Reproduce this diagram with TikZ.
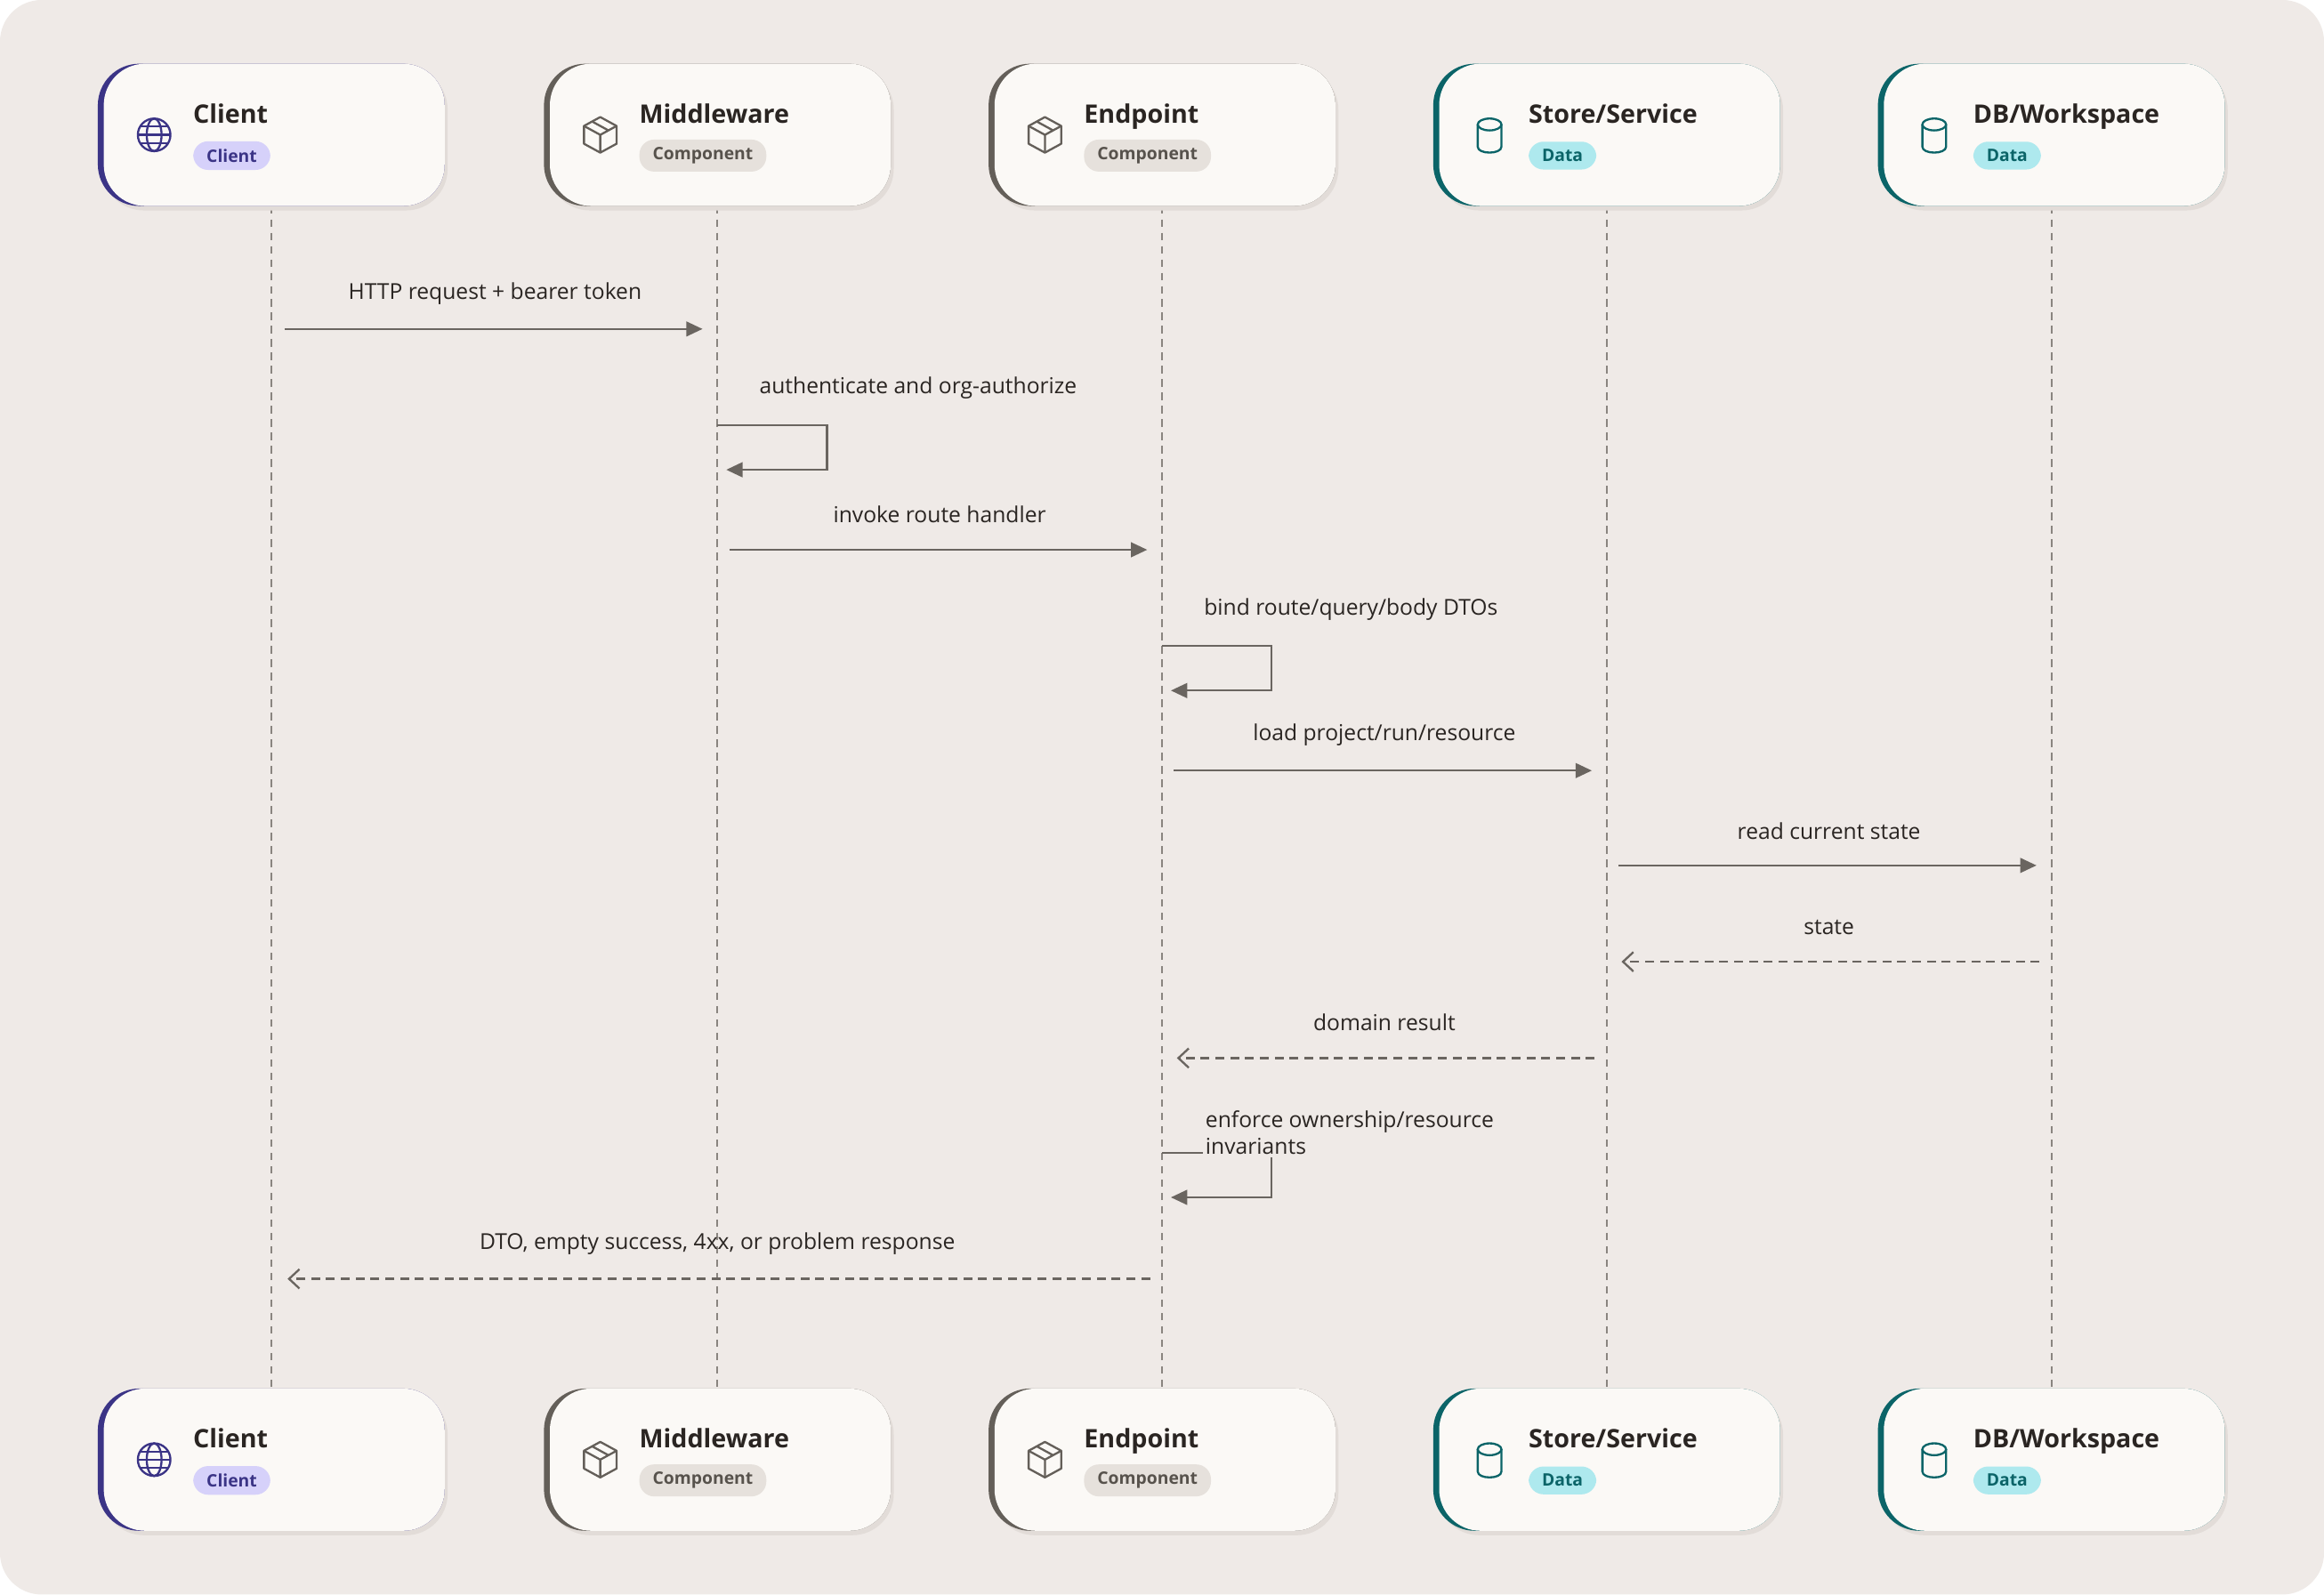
\documentclass[tikz,border=0pt]{standalone}
\usepackage{fontspec}
\setmainfont{Open Sans}
\usetikzlibrary{arrows.meta,calc}

\definecolor{bgc}{HTML}{EFEAE7}
\definecolor{cardc}{HTML}{FBF9F6}
\definecolor{shadowc}{HTML}{E2DCD8}
\definecolor{linec}{HTML}{8A8580}
\definecolor{msgc}{HTML}{6A6560}
\definecolor{txtc}{HTML}{2A2522}
\definecolor{clientc}{HTML}{3B3486}
\definecolor{clientbg}{HTML}{D6D1FA}
\definecolor{compc}{HTML}{645F59}
\definecolor{compbg}{HTML}{E6E1DC}
\definecolor{compt}{HTML}{57524C}
\definecolor{datac}{HTML}{0B6468}
\definecolor{databg}{HTML}{AEE9EE}

\tikzset{
  lifeline/.style={linec, line width=0.6pt, dash pattern=on 2.5pt off 2pt},
  call/.style={msgc, line width=0.7pt, -{Triangle[length=5.5pt,width=5pt]}},
  reply/.style={msgc, line width=0.7pt, dash pattern=on 3pt off 2pt, -{Straight Barb[length=3.5pt,width=6.5pt]}},
  selfcall/.style={msgc, line width=0.7pt, -{Triangle[length=5.5pt,width=5pt]}},
  msglabel/.style={text=txtc, font=\fontsize{7.4}{9}\selectfont, inner sep=0pt},
  title/.style={text=txtc, font=\fontsize{8.6}{10}\selectfont\bfseries, anchor=base west, inner sep=0pt},
  badge/.style={font=\fontsize{5.8}{7}\selectfont\bfseries, anchor=west, rounded corners=5pt, inner xsep=4.5pt, inner ysep=2.6pt},
}

% globe icon
\newcommand{\iconglobe}[2]{%
  \draw[clientc, line width=0.7pt] (#1,#2) circle (11);
  \draw[clientc, line width=0.7pt] (#1,#2) ellipse (5 and 11);
  \draw[clientc, line width=0.7pt] (#1-11,#2) -- (#1+11,#2);
  \draw[clientc, line width=0.6pt] (#1-9.5,#2-5.5) -- (#1+9.5,#2-5.5) (#1-9.5,#2+5.5) -- (#1+9.5,#2+5.5);}
% box icon
\newcommand{\iconcube}[2]{%
  \draw[compc, line width=0.7pt, line join=round] (#1-11,#2-6) -- (#1,#2-12) -- (#1+11,#2-6) -- (#1+11,#2+6) -- (#1,#2+12) -- (#1-11,#2+6) -- cycle;
  \draw[compc, line width=0.7pt, line join=round] (#1-11,#2-6) -- (#1,#2) -- (#1+11,#2-6) (#1,#2) -- (#1,#2+12) (#1-5.5,#2-9) -- (#1+5.5,#2-3);}
% cylinder icon
\newcommand{\iconcyl}[2]{%
  \draw[datac, line width=0.7pt] (#1,#2-7) ellipse (8 and 4);
  \draw[datac, line width=0.7pt] (#1-8,#2-7) -- (#1-8,#2+8) .. controls (#1-8,#2+13.3) and (#1+8,#2+13.3) .. (#1+8,#2+8) -- (#1+8,#2-7);}

% card: name, lifeline x, top y, title, badge, accent, badge fill, badge text, icon
\newcommand{\actorcard}[9]{%
  \fill[shadowc, rounded corners=14] (#2-114,#3+3) rectangle (#2+119,#3+99);
  \fill[#6, rounded corners=14] (#2-117,#3) rectangle (#2+117,#3+96);
  \fill[cardc, rounded corners=14] (#2-113,#3) rectangle (#2+117,#3+96);
  \coordinate (#1) at (#2,#3+48);
  #9{#2-79}{#3+48}
  \node[title] (#1-t) at (#2-53,#3+40) {#4};
  \node[badge, fill=#7, text=#8] (#1-b) at (#2-53,#3+62) {#5};}

\begin{document}
\begin{tikzpicture}[x=0.5pt,y=-0.5pt]
\useasboundingbox (0,0) rectangle (1568,1076);
\fill[bgc, rounded corners=14] (0,0) rectangle (1568,1076);

% lifelines
\foreach \lx in {183,484,784,1084,1384}
  \draw[lifeline] (\lx,139) -- (\lx,937);

% actors, top and bottom
\foreach \ty/\cpos in {43/T,937/B}{
  \actorcard{client\cpos}{183}{\ty}{Client}{Client}{clientc}{clientbg}{clientc}{\iconglobe}
  \actorcard{mid\cpos}{484}{\ty}{Middleware}{Component}{compc}{compbg}{compt}{\iconcube}
  \actorcard{end\cpos}{784}{\ty}{Endpoint}{Component}{compc}{compbg}{compt}{\iconcube}
  \actorcard{store\cpos}{1084}{\ty}{Store/Service}{Data}{datac}{databg}{datac}{\iconcyl}
  \actorcard{db\cpos}{1384}{\ty}{DB/Workspace}{Data}{datac}{databg}{datac}{\iconcyl}
}

% message anchors
\coordinate (m1a) at (192,222);  \coordinate (m1b) at (474,222);
\coordinate (m3a) at (492,371);  \coordinate (m3b) at (774,371);
\coordinate (m5a) at (792,520);  \coordinate (m5b) at (1074,520);
\coordinate (m6a) at (1092,584); \coordinate (m6b) at (1374,584);
\coordinate (m7a) at (1376,649); \coordinate (m7b) at (1094,649);
\coordinate (m8a) at (1076,714); \coordinate (m8b) at (794,714);
\coordinate (m10a) at (776,863); \coordinate (m10b) at (194,863);

\draw[call] (m1a) -- (m1b);
\node[msglabel] at (334,198) {HTTP request + bearer token};

\draw[selfcall] (484,287) -- (558,287) -- (558,317) -- (490,317);
\node[msglabel, anchor=west] at (512,262) {authenticate and org-authorize};

\draw[call] (m3a) -- (m3b);
\node[msglabel] at (634,347) {invoke route handler};

\draw[selfcall] (784,436) -- (858,436) -- (858,466) -- (790,466);
\node[msglabel, anchor=west] at (812,411) {bind route/query/body DTOs};

\draw[call] (m5a) -- (m5b);
\node[msglabel] at (934,496) {load project/run/resource};

\draw[call] (m6a) -- (m6b);
\node[msglabel] at (1234,561) {read current state};

\draw[reply] (m7a) -- (m7b);
\node[msglabel] at (1234,626) {state};

\draw[reply] (m8a) -- (m8b);
\node[msglabel] at (934,690) {domain result};

\draw[selfcall] (784,778) -- (858,778) -- (858,808) -- (790,808);
\node[msglabel, anchor=west, align=left, fill=bgc, inner sep=1pt] at (811,764) {enforce ownership/resource\\invariants};

\draw[reply] (m10a) -- (m10b);
\node[msglabel] at (484,839) {DTO, empty success, 4xx, or problem response};
\end{tikzpicture}
\end{document}
